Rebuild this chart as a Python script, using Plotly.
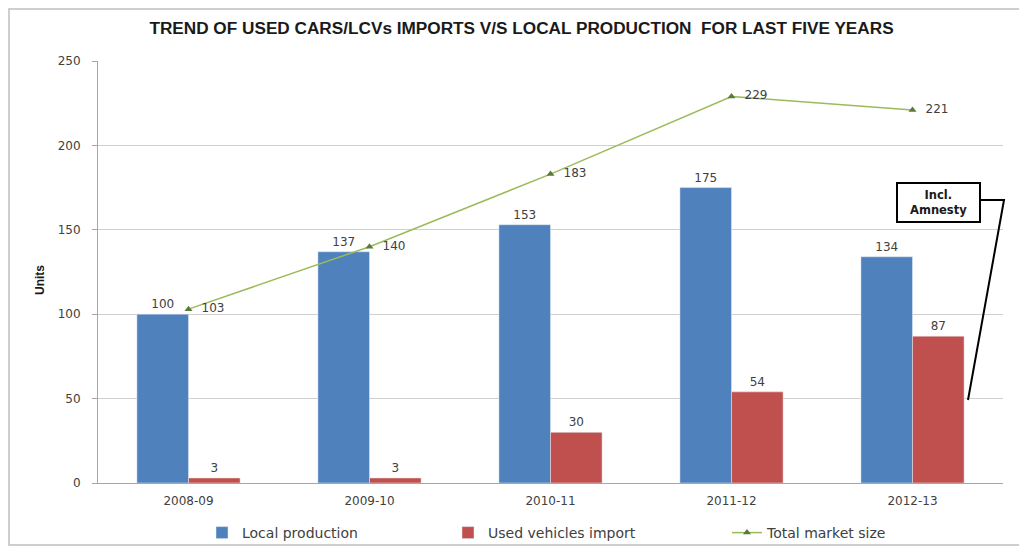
import plotly.graph_objects as go

years = ["2008-09", "2009-10", "2010-11", "2011-12", "2012-13"]
local_production = [100, 137, 153, 175, 134]
used_imports = [3, 3, 30, 54, 87]
total_market = [103, 140, 183, 229, 221]

blue = "#4F81BD"
red = "#C0504D"
green = "#9BBB59"
lbl_font = dict(family="DejaVu Sans", size=12, color="#404040")

fig = go.Figure()
fig.add_trace(go.Bar(x=years, y=local_production, name="Local production",
                     marker_color=blue, text=local_production, textposition="outside",
                     textfont=lbl_font, cliponaxis=False, legend="legend"))
fig.add_trace(go.Bar(x=years, y=used_imports, name="Used vehicles import",
                     marker_color=red, text=used_imports, textposition="outside",
                     textfont=lbl_font, cliponaxis=False, legend="legend2"))
fig.add_trace(go.Scatter(x=years, y=total_market, name="Total market size",
                         mode="lines+markers+text", line=dict(color=green, width=1.5),
                         marker=dict(symbol="triangle-up", size=7, color="#5A7A3A"),
                         text=["  " + str(v) for v in total_market], textposition="middle right",
                         textfont=lbl_font, cliponaxis=False, legend="legend3"))

OFF = 8  # page body margin offset
W, H = 1027, 548
L, T = 98 - OFF, 61 - OFF
R = W - (1003 - OFF)
B = H - (483 - OFF)
pw, ph = W - L - R, H - T - B

def px(x):
    return (x - OFF - L) / pw

def py(y):
    return (H - B - (y - OFF)) / ph

leg_font = dict(family="DejaVu Sans", size=14, color="#404040")

def leg(xpix):
    return dict(orientation="h", x=px(xpix), xanchor="left", y=py(533), yanchor="middle",
                bgcolor="rgba(0,0,0,0)", font=leg_font, itemwidth=30)

fig.update_layout(
    width=W, height=H,
    margin=dict(l=L, r=R, t=T, b=B, autoexpand=False),
    paper_bgcolor="white", plot_bgcolor="white",
    barmode="group", bargap=0.43, bargroupgap=0,
    title=dict(text="<b>TREND OF USED CARS/LCVs IMPORTS V/S LOCAL PRODUCTION  FOR LAST FIVE YEARS</b>",
               x=0.5, xanchor="center", y=1 - 20 / H, yanchor="middle",
               font=dict(family="Liberation Sans, Arial", size=17.2, color="#1a1a1a")),
    font=dict(family="DejaVu Sans", size=12, color="#404040"),
    legend=leg(202), legend2=leg(448), legend3=leg(727),
    showlegend=True,
)
fig.update_xaxes(type="category", showline=True, linecolor="#A6A6A6", linewidth=1, ticks="",
                 tickfont=dict(family="DejaVu Sans", size=12, color="#404040"),
                 ticklabelstandoff=7, range=[-0.5, 4.5], automargin=False)
fig.update_yaxes(range=[0, 250], dtick=50, showline=True, linecolor="#A6A6A6", linewidth=1,
                 gridcolor="#D0D0D0", gridwidth=1, ticks="outside", ticklen=5, tickcolor="#A6A6A6",
                 tickfont=dict(family="DejaVu Sans", size=12, color="#404040"),
                 ticklabelstandoff=9, zeroline=False, automargin=False)

# y-axis title
fig.add_annotation(xref="paper", yref="paper", x=px(40), y=py(280), textangle=-90,
                   text="<b>Units</b>", showarrow=False, xanchor="center", yanchor="middle",
                   font=dict(family="Liberation Sans, Arial", size=12, color="#1a1a1a"))

# outer chart border
fig.add_shape(type="rect", xref="paper", yref="paper",
              x0=px(9), x1=px(1020), y0=py(545), y1=py(9),
              line=dict(color="#BFBFBF", width=1.5), layer="below")

# callout box
fig.add_shape(type="rect", xref="paper", yref="paper",
              x0=px(897), x1=px(980), y0=py(222), y1=py(183),
              line=dict(color="black", width=2), fillcolor="white")
fig.add_shape(type="path", xref="paper", yref="paper",
              path=f"M {px(980)},{py(200)} L {px(1004)},{py(200)} L {px(968)},{py(400)}",
              line=dict(color="black", width=2))
fig.add_annotation(xref="paper", yref="paper", x=px(938.5), y=py(202.5),
                   xanchor="center", yanchor="middle", align="center",
                   text="<b>Incl.<br>Amnesty</b>", showarrow=False,
                   font=dict(family="DejaVu Sans", size=11.5, color="#1a1a1a"))

fig.write_html("out.html")
